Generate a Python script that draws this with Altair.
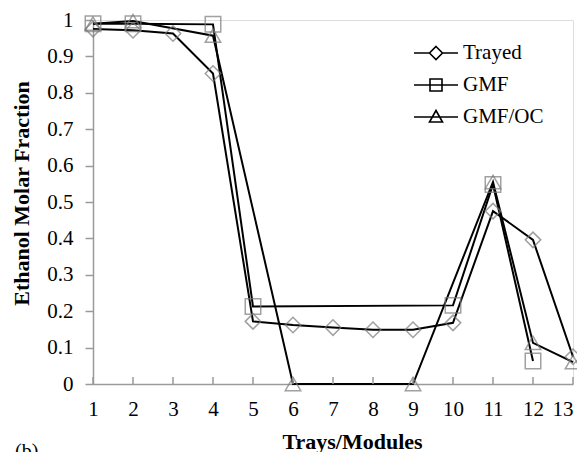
import altair as alt
import pandas as pd

series_names = ["Trayed", "GMF", "GMF/OC"]

trayed_x = [1, 2, 3, 4, 5, 6, 7, 8, 9, 10, 11, 12, 13]
trayed_y = [0.975, 0.972, 0.963, 0.853, 0.172, 0.162, 0.155, 0.149, 0.149, 0.168, 0.475, 0.396, 0.075]

gmf_x = [1, 2, 4, 5, 10, 11, 12]
gmf_y = [0.99, 0.99, 0.988, 0.213, 0.216, 0.548, 0.063]

gmfoc_x = [1, 2, 4, 6, 9, 11, 12, 13]
gmfoc_y = [0.99, 0.997, 0.957, 0.0, 0.0, 0.555, 0.113, 0.06]

x_ticks = list(range(1, 14))
y_ticks = [0, 0.1, 0.2, 0.3, 0.4, 0.5, 0.6, 0.7, 0.8, 0.9, 1.0]

rows = []
for name, xs, ys in [("Trayed", trayed_x, trayed_y), ("GMF", gmf_x, gmf_y), ("GMF/OC", gmfoc_x, gmfoc_y)]:
    for i, (xv, yv) in enumerate(zip(xs, ys)):
        rows.append({"series": name, "tray": xv, "frac": yv, "order": i})
df = pd.DataFrame(rows)

W, H = 480, 364
FONT = "Liberation Serif"
GREY = "#9a9a9a"

x_enc = alt.X("tray:Q",
              scale=alt.Scale(domain=[1, 13], nice=False, zero=False),
              axis=alt.Axis(values=x_ticks, tickSize=0, labelPadding=14, labelOverlap=False,
                            labelFlush=False, labelBound=False,
                            labelAlign={"condition": {"test": "datum.value == 13", "value": "right"}, "value": "center"},
                            labelFont=FONT, labelFontSize=21, labelColor="black",
                            domainColor=GREY, domainWidth=1.5, grid=False,
                            title="Trays/Modules", titleFont=FONT, titleFontSize=22,
                            titleFontWeight="bold", titleColor="black",
                            titleX=259, titleY=64, titleBaseline="alphabetic",
                            titleAlign="center"))
y_enc = alt.Y("frac:Q",
              scale=alt.Scale(domain=[0, 1], nice=False),
              axis=alt.Axis(values=y_ticks, format=".1~f", tickSize=8, tickColor=GREY,
                            tickWidth=1.5, labelPadding=12, labelOverlap=False,
                            labelFlush=False, labelBound=False,
                            labelFont=FONT, labelFontSize=21, labelColor="black",
                            domainColor=GREY, domainWidth=1.5, grid=False,
                            title="Ethanol Molar Fraction", titleFont=FONT,
                            titleFontSize=22, titleFontWeight="bold", titleColor="black",
                            titleX=-65, titleY=173, titleAngle=270,
                            titleBaseline="alphabetic", titleAlign="center"))

lines = alt.Chart(df).mark_line(color="black", strokeWidth=2).encode(
    x=x_enc, y=y_enc, detail="series:N", order="order:Q")

points = alt.Chart(df).mark_point(filled=False, color="#7a7a7a", strokeWidth=1.5, size=240).encode(
    x=x_enc, y=y_enc,
    shape=alt.Shape("series:N",
                    scale=alt.Scale(domain=series_names, range=["diamond", "square", "triangle-up"]),
                    legend=None))

legend_paths = [
    "M-2.2,0L-0.65,0M0.65,0L2.2,0M0,-0.65L0.65,0L0,0.65L-0.65,0Z",
    "M-2.2,0L2.2,0M-0.6,-0.6L0.6,-0.6L0.6,0.6L-0.6,0.6Z",
    "M-2.2,0L2.2,0M0,-0.65L0.65,0.5L-0.65,0.5Z",
]
legend_layer = alt.Chart(df).mark_point(filled=False, color="black", opacity=0, size=400).encode(
    x=x_enc, y=y_enc,
    shape=alt.Shape("series:N",
                    scale=alt.Scale(domain=series_names, range=legend_paths),
                    legend=alt.Legend(title=None, orient="none", legendX=332, legendY=22,
                                      symbolSize=400, symbolOpacity=1,
                                      symbolStrokeColor="black", symbolFillColor="transparent",
                                      symbolStrokeWidth=1.6, labelFont=FONT, labelFontSize=21,
                                      labelColor="black", labelOffset=16, rowPadding=11,
                                      padding=0, labelLimit=200)))

tick_df = pd.DataFrame({"tray": x_ticks})
xticks = alt.Chart(tick_df).mark_rule(color=GREY, strokeWidth=1.5).encode(
    x=x_enc, y=alt.value(H), y2=alt.value(H - 7))

label_b = alt.Chart(alt.Data(values=[{"t": "(b)"}])).mark_text(
    font=FONT, fontSize=20, align="left", baseline="alphabetic", color="black").encode(
    x=alt.value(-78), y=alt.value(438), text="t:N")

chart = alt.layer(lines, points, legend_layer, xticks, label_b).resolve_scale(
    shape="independent").properties(
    width=W, height=H,
    autosize=alt.AutoSizeParams(type="none"),
    padding={"left": 85, "top": 12, "right": 4, "bottom": 80},
).configure_view(stroke=GREY, strokeWidth=1.5).configure(background="white")

chart.save("out.html", embed_options={"renderer": "svg", "actions": False})
